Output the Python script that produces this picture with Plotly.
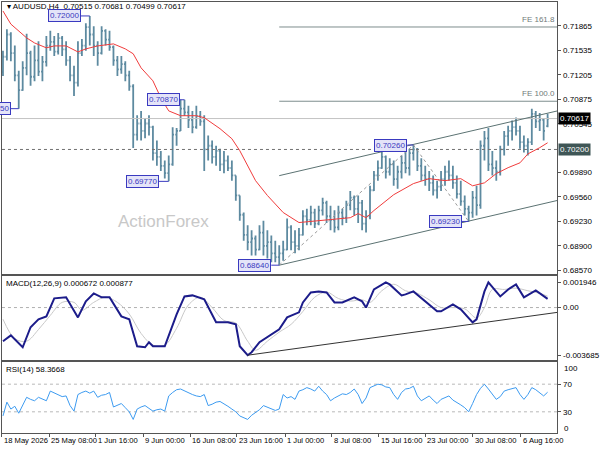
import plotly.graph_objects as go
from plotly.subplots import make_subplots

# ---- data (H4 bars, prices in pips = 1e-4) ----
bar_open = [7125, 7145, 7175, 7150, 7120, 7100, 7130, 7150, 7118, 7140,
            7125, 7138, 7160, 7165, 7152, 7170, 7155, 7140, 7120, 7110,
            7150, 7160, 7185, 7175, 7160, 7150, 7180, 7168, 7158, 7140,
            7128, 7135, 7120, 7105, 7040, 7055, 7045, 7055, 7050, 7015,
            7010, 6998, 6988, 7000, 7040, 7045, 7075, 7070, 7060, 7050,
            7065, 7058, 7020, 7025, 7010, 7018, 7000, 7005, 6995, 6985,
            6958, 6932, 6905, 6895, 6900, 6885, 6908, 6890, 6895, 6880,
            6875, 6880, 6885, 6915, 6895, 6890, 6905, 6930, 6925, 6935,
            6920, 6938, 6948, 6930, 6925, 6915, 6935, 6928, 6945, 6955,
            6940, 6948, 6920, 6930, 6965, 6985, 6995, 7010, 6990, 7000,
            6980, 6990, 7002, 6995, 7015, 7020, 6998, 6985, 6980, 6975,
            6965, 6970, 6980, 6990, 6985, 6975, 6960, 6950, 6940, 6935,
            6955, 6945, 7025, 7035, 7000, 6995, 6990, 7020, 7038, 7045,
            7050, 7045, 7030, 7025, 7030, 7068, 7058, 7060, 7051.5]
bar_high = [7153, 7182, 7178, 7160, 7126, 7139, 7176, 7153, 7160, 7166,
            7146, 7173, 7180, 7173, 7177, 7173, 7166, 7146, 7133, 7166,
            7169, 7190, 7200, 7186, 7166, 7186, 7182, 7180, 7160, 7146,
            7146, 7139, 7126, 7108, 7066, 7072, 7062, 7066, 7052, 7032,
            7018, 7005, 7012, 7050, 7049, 7087, 7087, 7079, 7072, 7079,
            7072, 7066, 7039, 7032, 7025, 7021, 7018, 7012, 7005, 6985,
            6958, 6935, 6918, 6911, 6904, 6918, 6924, 6911, 6904, 6897,
            6891, 6897, 6927, 6918, 6911, 6914, 6938, 6940, 6944, 6940,
            6944, 6955, 6951, 6944, 6938, 6944, 6940, 6951, 6964, 6958,
            6958, 6952, 6938, 6971, 6991, 7005, 7018, 7012, 7008, 7005,
            6998, 7012, 7018, 7021, 7026, 7022, 7008, 6998, 6991, 6985,
            6978, 6991, 6998, 7005, 6998, 6985, 6978, 6958, 6944, 6964,
            6971, 7032, 7045, 7049, 7018, 7005, 7025, 7045, 7052, 7059,
            7063, 7052, 7039, 7035, 7075, 7072, 7069, 7061, 7068.1]
bar_low = [7119, 7140, 7139, 7112, 7075, 7099, 7120, 7106, 7112, 7119,
           7112, 7132, 7153, 7146, 7148, 7146, 7133, 7112, 7092, 7105,
           7146, 7153, 7160, 7146, 7133, 7148, 7160, 7153, 7133, 7119,
           7122, 7112, 7099, 7022, 7032, 7032, 7035, 7039, 7005, 6998,
           6991, 6981, 6977, 6998, 7025, 7045, 7065, 7049, 7042, 7048,
           7052, 6991, 7005, 7001, 6998, 6991, 6988, 6991, 6978, 6951,
           6924, 6897, 6884, 6877, 6877, 6884, 6877, 6873, 6868, 6868,
           6864, 6870, 6884, 6884, 6880, 6884, 6904, 6918, 6918, 6914,
           6918, 6931, 6921, 6911, 6908, 6911, 6918, 6921, 6938, 6931,
           6921, 6911, 6908, 6926, 6964, 6978, 6994, 6981, 6985, 6971,
           6967, 6981, 6988, 6985, 7005, 6991, 6978, 6971, 6964, 6958,
           6954, 6964, 6971, 6978, 6967, 6954, 6944, 6931, 6923, 6928,
           6931, 6940, 7005, 6991, 6985, 6978, 6985, 7012, 7025, 7032,
           7039, 7021, 7016, 7012, 7026, 7049, 7045, 7032, 7049.9]
bar_close = [7145, 7175, 7150, 7120, 7100, 7130, 7150, 7118, 7140, 7125,
             7138, 7160, 7165, 7152, 7170, 7155, 7140, 7120, 7110, 7150,
             7160, 7185, 7175, 7160, 7150, 7180, 7168, 7158, 7140, 7128,
             7135, 7120, 7105, 7040, 7055, 7045, 7055, 7050, 7015, 7010,
             6998, 6988, 7000, 7040, 7045, 7075, 7070, 7060, 7050, 7065,
             7058, 7020, 7025, 7010, 7018, 7000, 7005, 6995, 6985, 6958,
             6932, 6905, 6895, 6900, 6885, 6908, 6890, 6895, 6880, 6875,
             6880, 6885, 6915, 6895, 6890, 6905, 6930, 6925, 6935, 6920,
             6938, 6948, 6930, 6925, 6915, 6935, 6928, 6945, 6955, 6940,
             6948, 6920, 6930, 6965, 6985, 6995, 7010, 6990, 7000, 6980,
             6990, 7002, 6995, 7015, 7020, 6998, 6985, 6980, 6975, 6965,
             6970, 6980, 6990, 6985, 6975, 6960, 6950, 6940, 6935, 6955,
             6945, 7025, 7035, 7000, 6995, 6990, 7020, 7038, 7045, 7050,
             7045, 7030, 7025, 7030, 7068, 7058, 7060, 7045, 7061.7]

# moving average (red)
ma_idx = [0, 2, 6, 8, 11, 13, 16, 19, 21, 24, 28, 31, 33, 35, 38, 40, 42, 45, 49, 51,
          55, 58, 60, 64, 67, 71, 75, 80, 84, 88, 90, 92, 94, 99, 104, 108, 112, 116, 119, 122,
          125, 128, 131, 133, 136, 138]
ma_val = [7206.7, 7189, 7170.4, 7163.6, 7157, 7159.6, 7159.6, 7151.5, 7155.6, 7159.6,
          7162.3, 7155.6, 7149, 7130, 7112.5, 7089.6, 7072, 7065.5, 7065.5, 7062.8,
          7048, 7034.5, 7018.4, 6978, 6958, 6935, 6921.5, 6924, 6927, 6928,
          6933.6, 6928, 6937.7, 6959, 6974, 6980.7, 6978, 6980.7, 6971, 6975,
          6987.5, 6995.5, 7002, 7014, 7022.4, 7029]

# swing points, channel, Fibonacci expansion
swing_idx = [4, 22, 42, 46, 70, 104, 118]
swing_price = [0.70750, 0.72000, 0.69770, 0.70870, 0.68640, 0.70260, 0.69230]
zigzag_idx = [70, 104, 118]
zigzag_price = [0.68640, 0.70260, 0.69230]
channel_idx = [70, 140.5]
channel_upper = [0.69847, 0.70720]
channel_lower = [0.68640, 0.69513]
fe_names = ['FE 161.8', 'FE 100.0']
fe_levels = [0.71851, 0.70850]
last_price = 0.70617
support_level = 0.70200

# MACD(12,26,9)
macd_idx = [0, 2, 5, 7, 9, 11, 13, 16, 19, 21, 23, 25, 27, 30, 32, 34, 36, 37, 38, 41,
            44, 46, 48, 51, 54, 57, 59, 60, 62, 63, 65, 68, 70, 72, 75, 76, 78, 80, 82, 84,
            86, 89, 91, 92, 94, 97, 98, 101, 102, 104, 107, 110, 111, 114, 116, 119, 120, 122, 123, 126,
            128, 130, 132, 135, 138]
macd_val = [-0.00261, -0.00215, -0.00307, -0.00152, -0.00091, -0.00068, 0.00071, 0.00079, -0.00076, 0.00048,
            0.00109, 0.00079, 0.00079, -0.00068, -0.00091, -0.00299, -0.00307, -0.00268, -0.00299, -0.00299,
            -0.00052, 0.00086, 0.00094, 0.00063, -0.00114, -0.00114, -0.00130, -0.00299, -0.003685, -0.00345,
            -0.00268, -0.00206, -0.00168, -0.00076, -0.00037, 0.00040, 0.00117, 0.00125, 0.00117, 0.00040,
            0.00040, 0.00079, 0.00048, 0.0, 0.00140, 0.001946, 0.00179, 0.00094, 0.00102, 0.00125,
            0.00048, -0.00029, -0.00029, 0.00025, -0.00014, -0.00114, -0.00091, 0.00125, 0.00194, 0.00086,
            0.00140, 0.00179, 0.00079, 0.00133, 0.000672]
sig_idx = [0, 3, 6, 9, 12, 15, 18, 20, 23, 26, 29, 32, 35, 38, 41, 44, 47, 50, 53, 56,
           59, 62, 64, 67, 70, 73, 76, 79, 82, 85, 88, 91, 93, 96, 99, 102, 105, 108, 111, 114,
           117, 120, 122, 124, 127, 130, 133, 136, 138]
sig_val = [-0.0009, -0.0024, -0.0026, -0.0017, -0.0006, 0.0004, 0.0004, -0.0002, 0.0004, 0.0008,
           0.0004, -0.0005, -0.0020, -0.0029, -0.0029, -0.0016, 0.0002, 0.0008, 0.0000, -0.0010,
           -0.0012, -0.0026, -0.0033, -0.0026, -0.0019, -0.0013, -0.0003, 0.0008, 0.0012, 0.0007,
           0.0005, 0.0006, 0.0004, 0.0013, 0.0018, 0.0013, 0.0011, 0.0006, 0.0000, 0.0000,
           -0.0001, -0.0008, 0.0000, 0.0014, 0.0014, 0.0015, 0.0013, 0.0011, 0.00088]
macd_trend_idx = [62, 140.5]
macd_trend_val = [-0.003685, -0.00037]

# RSI(14)
rsi_val = [24, 44, 34, 38, 28, 40, 51, 48, 46, 51, 49, 46, 60, 57, 55, 52, 53, 39, 31, 55,
           58, 60, 57, 60, 51, 54, 55, 58, 37, 40, 42, 36, 30, 19, 34, 37, 39, 35, 31, 33,
           34, 31, 53, 58, 62, 63, 60, 58, 55, 53, 52, 55, 39, 41, 44, 45, 42, 38, 34, 30,
           24, 22, 19, 25, 29, 33, 39, 37, 34, 32, 34, 55, 50, 52, 48, 60, 62, 65, 63, 60,
           67, 60, 55, 46, 50, 53, 56, 55, 58, 63, 55, 42, 50, 65, 68, 70, 69, 66, 65, 55,
           48, 58, 63, 64, 67, 53, 46, 50, 53, 47, 42, 48, 50, 53, 47, 44, 40, 36, 30, 42,
           55, 64, 70, 63, 55, 48, 52, 60, 62, 63, 65, 55, 48, 55, 65, 62, 58, 53, 58.37]

# time axis labels (bar positions)
time_tick_idx = [-0.25, 11.75, 23.5, 35.5, 47.5, 59.25, 71.5, 83.25, 95.25, 107, 119, 131.25]
time_tick_text = ['18 May 2026', '25 May 08:00', '1 Jun 16:00', '9 Jun 00:00', '16 Jun 08:00',
                  '23 Jun 16:00', '1 Jul 00:00', '8 Jul 08:00', '15 Jul 16:00', '23 Jul 00:00',
                  '30 Jul 08:00', '6 Aug 16:00']
price_ticks = [0.68570, 0.68900, 0.69230, 0.69560, 0.69890, 0.70545, 0.70875, 0.71205, 0.71535, 0.71865]

# ---- styles ----
W, H = 600, 450
FONT = 'Liberation Sans'
BAR = '#5d8aa0'
FRAME = '#555555'
LBL = '#3a3ac0'
X_RANGE = [-0.25, 140.5]
label_off = [-8, -9, -10, -5, -8, -6, -7]  # pixel offset of the label boxes


def py(p):
    return 1 - p / H


bar_idx = list(range(len(bar_close)))
to_price = lambda arr: [v / 1e4 for v in arr]

fig = make_subplots(rows=3, cols=1, shared_xaxes=True)

fig.add_trace(go.Ohlc(x=bar_idx, open=to_price(bar_open), high=to_price(bar_high),
                      low=to_price(bar_low), close=to_price(bar_close),
                      increasing=dict(line=dict(color=BAR, width=1.8)),
                      decreasing=dict(line=dict(color=BAR, width=1.8)),
                      tickwidth=0.35, hoverinfo='skip'), row=1, col=1)

# reference lines in the price panel
fig.add_trace(go.Scatter(x=X_RANGE, y=[last_price] * 2, mode='lines',
                         line=dict(color='#c4c4c4', width=1)), row=1, col=1)
fig.add_trace(go.Scatter(x=X_RANGE, y=[support_level] * 2, mode='lines',
                         line=dict(color='#707070', width=1, dash='dot')), row=1, col=1)
for lvl in fe_levels:
    fig.add_trace(go.Scatter(x=channel_idx, y=[lvl] * 2, mode='lines',
                             line=dict(color='#7d8d8d', width=1)), row=1, col=1)
fig.add_trace(go.Scatter(x=channel_idx, y=channel_upper, mode='lines',
                         line=dict(color='#5b7272', width=1)), row=1, col=1)
fig.add_trace(go.Scatter(x=channel_idx, y=channel_lower, mode='lines',
                         line=dict(color='#5b7272', width=1)), row=1, col=1)
fig.add_trace(go.Scatter(x=zigzag_idx, y=zigzag_price, mode='lines',
                         line=dict(color='#9a9a9a', width=1, dash='dot')), row=1, col=1)
fig.add_trace(go.Scatter(x=ma_idx, y=to_price(ma_val), mode='lines',
                         line=dict(color='#f03c3c', width=1)), row=1, col=1)

# MACD panel
fig.add_trace(go.Scatter(x=X_RANGE, y=[0, 0], mode='lines',
                         line=dict(color='#b0b0b0', width=1, dash='dot')), row=2, col=1)
fig.add_trace(go.Scatter(x=sig_idx, y=sig_val, mode='lines',
                         line=dict(color='#c8c8c8', width=1, shape='spline')), row=2, col=1)
fig.add_trace(go.Scatter(x=macd_idx, y=macd_val, mode='lines',
                         line=dict(color='#1c1c8a', width=2)), row=2, col=1)
fig.add_trace(go.Scatter(x=macd_trend_idx, y=macd_trend_val, mode='lines',
                         line=dict(color='#333333', width=1)), row=2, col=1)

# RSI panel
for lvl in (70, 30):
    fig.add_trace(go.Scatter(x=X_RANGE, y=[lvl, lvl], mode='lines',
                             line=dict(color='#b8b8b8', width=1, dash='dot')), row=3, col=1)
fig.add_trace(go.Scatter(x=bar_idx, y=rsi_val, mode='lines',
                         line=dict(color='#3d9bf0', width=1)), row=3, col=1)

fig.update_traces(showlegend=False)

axis_font = dict(family=FONT, size=8, color='black')
xcommon = dict(range=X_RANGE, domain=[2 / W, 565 / W], showgrid=False, zeroline=False,
               showline=True, mirror=True, linecolor=FRAME, linewidth=1)
ycommon = dict(side='right', showgrid=False, zeroline=False, showline=True, mirror=True,
               linecolor=FRAME, linewidth=1, ticks='outside', ticklen=3, tickcolor=FRAME,
               tickfont=axis_font)

fig.update_layout(
    width=W, height=H, margin=dict(l=0, r=0, t=0, b=0),
    paper_bgcolor='white', plot_bgcolor='white',
    xaxis=dict(xcommon, rangeslider=dict(visible=False), showticklabels=False),
    xaxis2=dict(xcommon, showticklabels=False),
    xaxis3=dict(xcommon, tickvals=time_tick_idx, ticktext=[''] * len(time_tick_idx),
                ticks='outside', ticklen=3, tickcolor=FRAME),
    yaxis=dict(ycommon, domain=[py(275), py(2)], range=[0.68516, 0.72188],
               tickvals=price_ticks, ticktext=[f'{v:.5f}' for v in price_ticks]),
    yaxis2=dict(ycommon, domain=[py(361), py(277)], range=[-0.00407, 0.00241],
                tickvals=[0.001946, 0, -0.003685], ticktext=['0.001946', '0.00', '-0.003685']),
    yaxis3=dict(ycommon, domain=[py(434), py(363)], range=[-0.7, 101.8],
                tickvals=[70, 30], ticktext=['70', '30']),
)

# RSI scale end labels (drawn slightly inside the panel, as the terminal does)
for txt, ypx in (('100', 369), ('0', 429)):
    fig.add_annotation(x=570 / W, y=py(ypx), xref='paper', yref='paper', text=txt,
                       showarrow=False, xanchor='left', yanchor='middle', font=axis_font)

# swing labels
for idx, price, off in zip(swing_idx, swing_price, label_off):
    fig.add_annotation(x=idx, y=price, xref='x', yref='y', text=f'{price:.5f}',
                       showarrow=True, arrowhead=0, arrowwidth=1, arrowcolor=LBL,
                       ax=off, ay=0, xanchor='right', standoff=0,
                       font=dict(family=FONT, size=8, color=LBL),
                       bgcolor='#e4e4f8', bordercolor=LBL, borderwidth=1, borderpad=1)

for name, lvl in zip(fe_names, fe_levels):
    fig.add_annotation(x=X_RANGE[1], y=lvl, xref='x', yref='y', text=name, showarrow=False,
                       xanchor='right', yanchor='bottom', yshift=1,
                       font=dict(family=FONT, size=8, color='#707a7a'))

# right-axis price boxes
fig.add_annotation(x=566 / W, y=last_price, xref='paper', yref='y', text=f'{last_price:.5f}',
                   showarrow=False, xanchor='left', font=dict(family=FONT, size=8, color='white'),
                   bgcolor='black', borderpad=1)
fig.add_annotation(x=566 / W, y=support_level, xref='paper', yref='y', text=f'{support_level:.5f}',
                   showarrow=False, xanchor='left', font=dict(family=FONT, size=8, color='white'),
                   bgcolor='#3f5656', borderpad=1)

# headers and watermark
fig.add_annotation(x=5 / W, y=py(7), xref='paper', yref='paper', showarrow=False,
                   xanchor='left', yanchor='middle',
                   text='▾ AUDUSD,H4  0.70515 0.70681 0.70499 0.70617',
                   font=dict(family=FONT, size=8, color='black'))
fig.add_annotation(x=4 / W, y=py(284), xref='paper', yref='paper', showarrow=False,
                   xanchor='left', yanchor='middle', text='MACD(12,26,9) 0.000672 0.000877',
                   font=dict(family=FONT, size=8, color='black'))
fig.add_annotation(x=4 / W, y=py(370), xref='paper', yref='paper', showarrow=False,
                   xanchor='left', yanchor='middle', text='RSI(14) 58.3668',
                   font=dict(family=FONT, size=8, color='black'))
fig.add_annotation(x=118 / W, y=py(222), xref='paper', yref='paper', showarrow=False,
                   text='ActionForex', font=dict(family=FONT, size=17, color='#c8c8c8'))

for idx, txt in zip(time_tick_idx, time_tick_text):
    fig.add_annotation(x=idx, y=py(441), xref='x3', yref='paper', text=txt, showarrow=False,
                       xanchor='left', yanchor='middle', font=dict(family=FONT, size=7.6, color='black'))

# page body has a default 8px margin; remove it so the 600x450 figure fills the window
fig.write_html("out.html", config={'displayModeBar': False},
               post_script="document.body.style.margin='0';")
